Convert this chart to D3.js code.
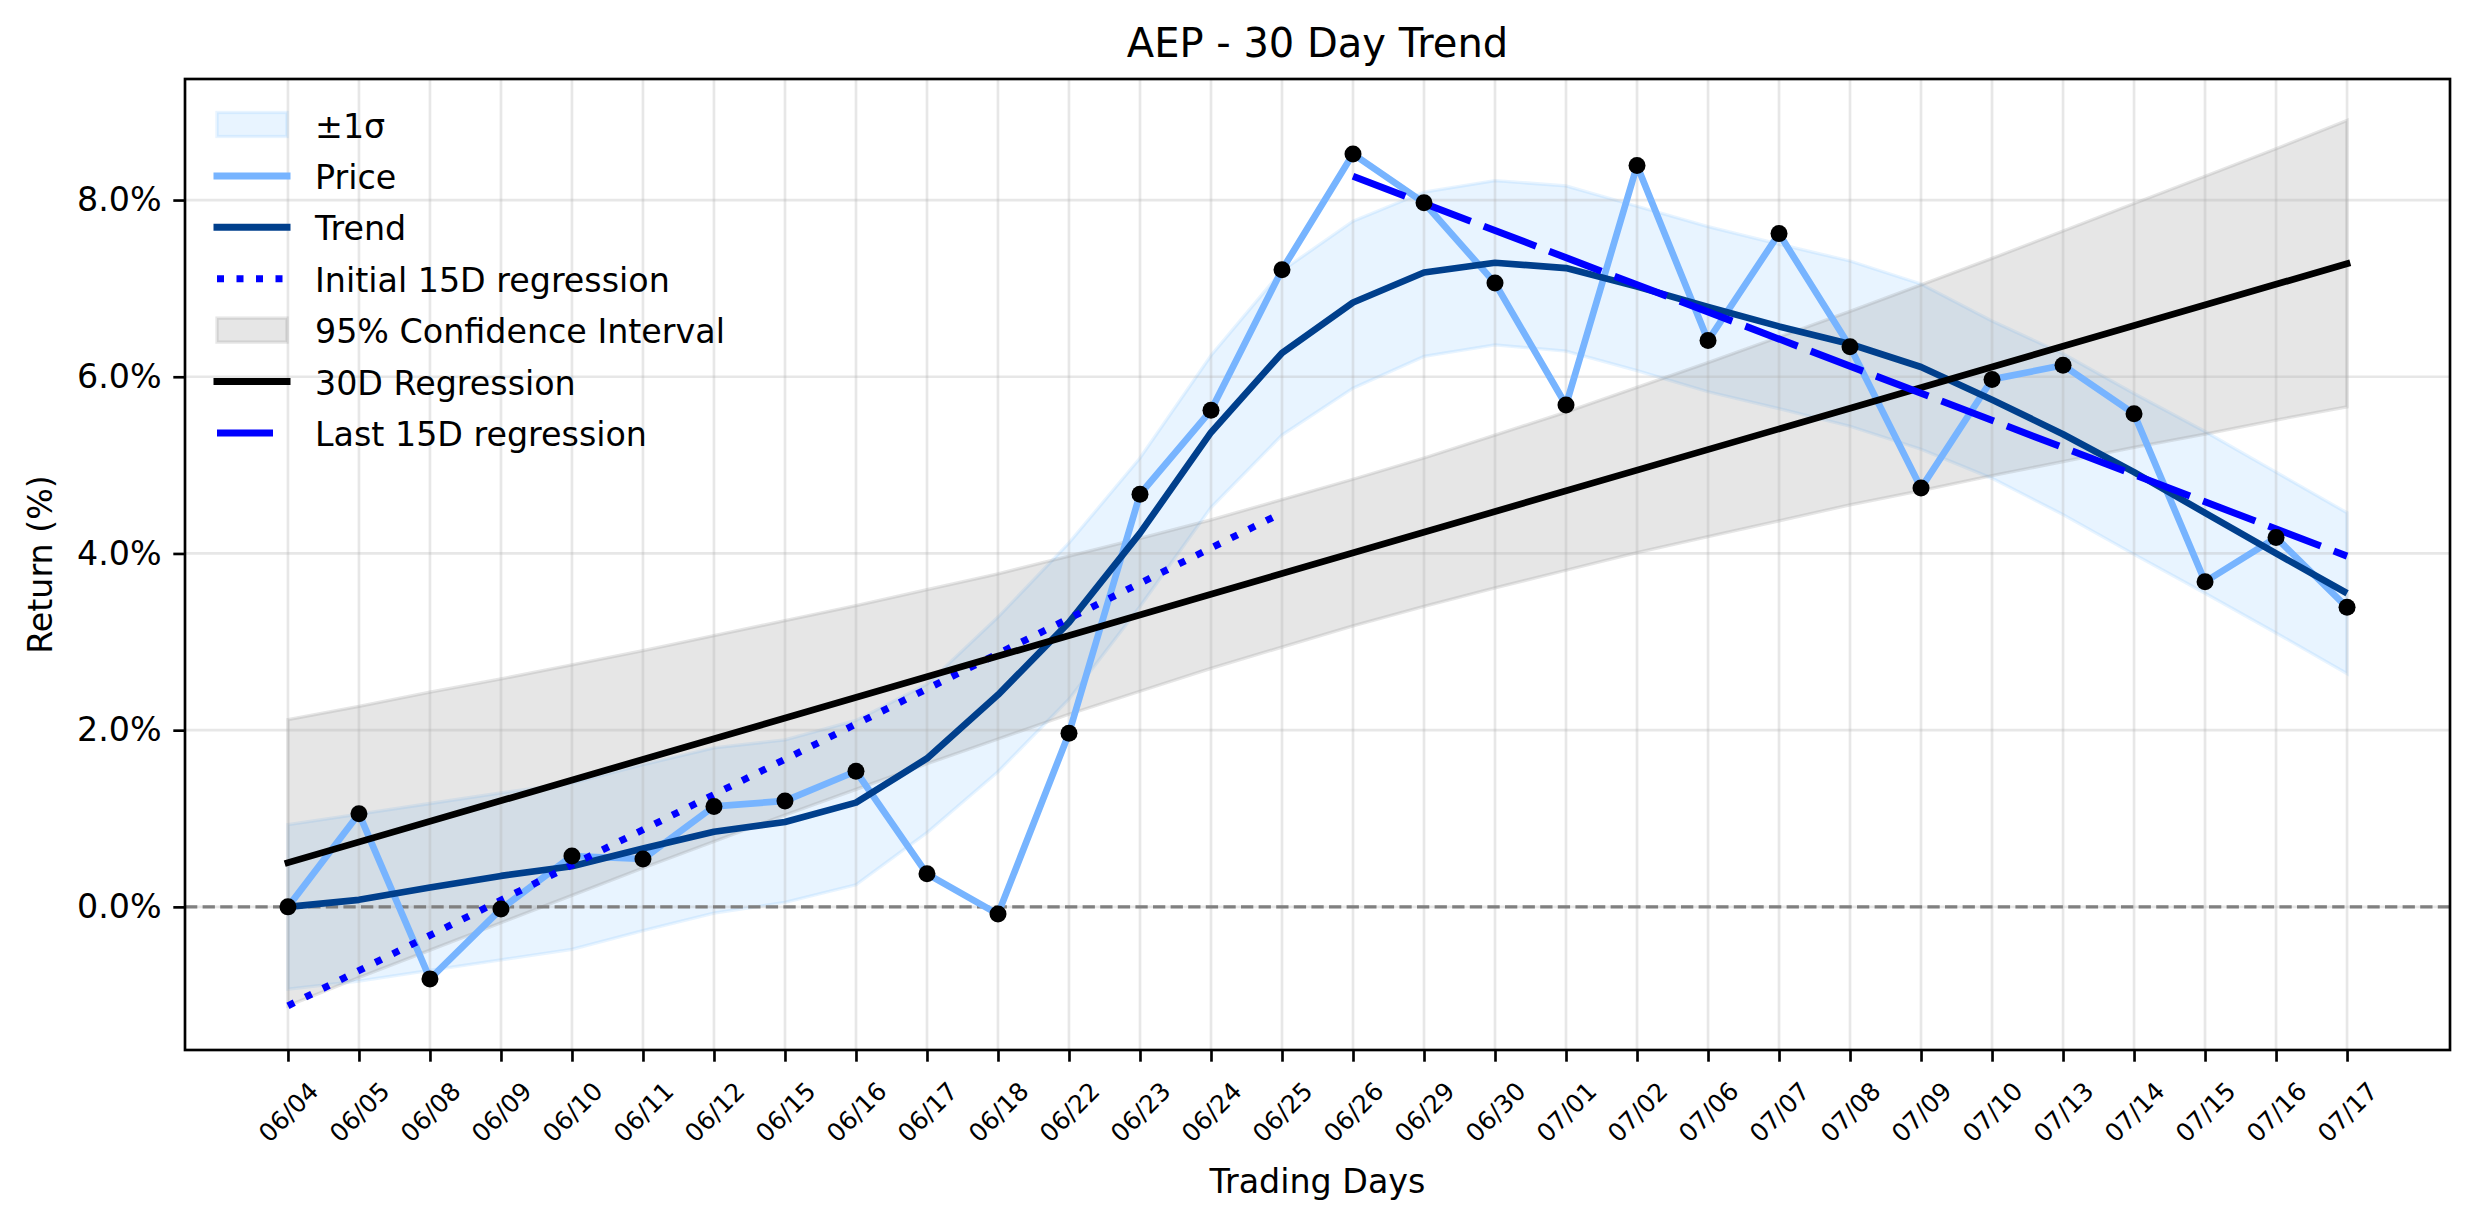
<!DOCTYPE html>
<html>
<head>
<meta charset="utf-8">
<script src="https://cdn.jsdelivr.net/npm/d3@7"></script>
<style>
  body { margin: 0; background: #fff; }
  svg text { font-family: "DejaVu Sans", sans-serif; fill: #000; }
</style>
</head>
<body>
<svg width="2474" height="1224"></svg>
<script>

// Datos
let dias = ['06/04', '06/05', '06/08', '06/09', '06/10', '06/11', '06/12', '06/15', '06/16', '06/17',
            '06/18', '06/22', '06/23', '06/24', '06/25', '06/26', '06/29', '06/30', '07/01', '07/02',
            '07/06', '07/07', '07/08', '07/09', '07/10', '07/13', '07/14', '07/15', '07/16', '07/17']

let precio = [0.00, 1.055, -0.815, -0.024, 0.576, 0.542, 1.137, 1.199, 1.535, 0.374,
              -0.082, 1.966, 4.67, 5.62, 7.21, 8.52, 7.97, 7.06, 5.68, 8.39,
              6.41, 7.62, 6.34, 4.74, 5.97, 6.13, 5.58, 3.68, 4.18, 3.39]

let tendencia = [0.00, 0.08, 0.22, 0.35, 0.46, 0.66, 0.85, 0.96, 1.18, 1.68,
                 2.40, 3.22, 4.23, 5.37, 6.27, 6.84, 7.18, 7.29, 7.23, 7.02,
                 6.79, 6.57, 6.37, 6.11, 5.74, 5.35, 4.92, 4.46, 4.00, 3.55]

let sigmaSup = [0.93, 1.05, 1.17, 1.29, 1.40, 1.61, 1.80, 1.89, 2.11, 2.52,
                3.28, 4.12, 5.08, 6.24, 7.20, 7.76, 8.09, 8.22, 8.16, 7.93,
                7.70, 7.50, 7.31, 7.05, 6.63, 6.26, 5.81, 5.38, 4.92, 4.46]

let sigmaInf = [-0.93, -0.84, -0.72, -0.60, -0.48, -0.27, -0.07, 0.05, 0.25, 0.84,
                1.53, 2.35, 3.40, 4.52, 5.34, 5.87, 6.23, 6.36, 6.29, 6.07,
                5.83, 5.64, 5.44, 5.18, 4.85, 4.44, 3.99, 3.55, 3.10, 2.64]

let ciSup = [2.12, 2.27, 2.43, 2.58, 2.74, 2.90, 3.07, 3.24, 3.41, 3.59,
             3.77, 3.97, 4.17, 4.38, 4.61, 4.84, 5.08, 5.34, 5.60, 5.88,
             6.16, 6.45, 6.74, 7.04, 7.34, 7.65, 7.96, 8.27, 8.58, 8.90]

let ciInf = [-1.12, -0.80, -0.49, -0.18, 0.13, 0.44, 0.74, 1.04, 1.33, 1.62,
             1.90, 2.18, 2.44, 2.70, 2.94, 3.18, 3.40, 3.61, 3.81, 4.01,
             4.19, 4.37, 4.55, 4.71, 4.88, 5.04, 5.20, 5.35, 5.51, 5.66]

// Rectas: extremos
let reg30Dias = ['06/04', '07/17']
let reg30 = [0.50, 7.28]
let ini15Dias = ['06/04', '06/25']
let ini15 = [-1.12, 4.46]
let fin15Dias = ['06/26', '07/17']
let fin15 = [8.27, 3.97]

let yTicks = [0, 2, 4, 6, 8]



/* Lienzo */

let svg = d3.select('svg')
let izq = 185, der = 2450, arr = 79, aba = 1050

let x = d3.scalePoint().domain(dias).range([izq, der]).padding(1.45)
let y = d3.scaleLinear().domain([-1.62, 9.37]).range([aba, arr])

let azulClaro = '#77b4ff'
let azulOscuro = '#003f8c'

let banda = (sup, inf) => d3.area()
  .x((d, i) => x(dias[i]))
  .y0((d, i) => y(inf[i]))
  .y1((d, i) => y(sup[i]))(sup)

let linea = (ds, vs) => d3.line()
  .x((d, i) => x(ds[i]))
  .y(d => y(d))(vs)


// Bandas (debajo de la grilla, como en matplotlib)
svg.append('path')
  .attr('d', banda(sigmaSup, sigmaInf))
  .attr('fill', 'rgba(30,144,255,0.1)')
  .attr('stroke', 'rgba(30,144,255,0.1)')
  .attr('stroke-width', 3.3)

svg.append('path')
  .attr('d', banda(ciSup, ciInf))
  .attr('fill', 'rgba(128,128,128,0.2)')
  .attr('stroke', 'rgba(128,128,128,0.2)')
  .attr('stroke-width', 3.3)


// Grilla
let grilla = svg.append('g').attr('stroke', 'rgba(176,176,176,0.3)').attr('stroke-width', 2.67)
grilla.selectAll('line.v').data(dias).enter().append('line')
  .attr('x1', d => x(d)).attr('x2', d => x(d))
  .attr('y1', arr).attr('y2', aba)
grilla.selectAll('line.h').data(yTicks).enter().append('line')
  .attr('x1', izq).attr('x2', der)
  .attr('y1', d => y(d)).attr('y2', d => y(d))


// Linea de cero
svg.append('line')
  .attr('x1', izq).attr('x2', der)
  .attr('y1', y(0)).attr('y2', y(0))
  .attr('stroke', '#808080')
  .attr('stroke-width', 3.3)
  .attr('stroke-dasharray', '12.3,5.3')


// Series
svg.append('path').attr('d', linea(dias, precio))
  .attr('fill', 'none').attr('stroke', azulClaro).attr('stroke-width', 6.7)
  .attr('stroke-linejoin', 'round')

svg.append('path').attr('d', linea(dias, tendencia))
  .attr('fill', 'none').attr('stroke', azulOscuro).attr('stroke-width', 6.7)
  .attr('stroke-linejoin', 'round')

svg.append('path').attr('d', linea(ini15Dias, ini15))
  .attr('fill', 'none').attr('stroke', '#0000ff').attr('stroke-width', 7)
  .attr('stroke-dasharray', '7,12.5')

svg.append('path').attr('d', linea(reg30Dias, reg30))
  .attr('fill', 'none').attr('stroke', '#000').attr('stroke-width', 6.7)
  .attr('stroke-linecap', 'square')

svg.append('path').attr('d', linea(fin15Dias, fin15))
  .attr('fill', 'none').attr('stroke', '#0000ff').attr('stroke-width', 7)
  .attr('stroke-dasharray', '56,14')

svg.append('g').selectAll('circle')
  .data(precio).enter().append('circle')
  .attr('cx', (d, i) => x(dias[i]))
  .attr('cy', d => y(d))
  .attr('r', 8.5)
  .attr('fill', '#000')


// Marco
svg.append('rect')
  .attr('x', izq).attr('y', arr)
  .attr('width', der - izq).attr('height', aba - arr)
  .attr('fill', 'none').attr('stroke', '#000').attr('stroke-width', 2.67)


/* Ejes */

let ejeY = svg.append('g')
  .attr('transform', `translate(${izq},0)`)
  .call(d3.axisLeft(y).tickValues(yTicks).tickFormat(d => d.toFixed(1) + '%')
    .tickSize(11.7).tickPadding(11.7).tickSizeOuter(0))
ejeY.select('.domain').remove()
ejeY.selectAll('line').attr('stroke-width', 2.67)
ejeY.selectAll('text').attr('font-size', 33.3).attr('font-family', 'DejaVu Sans')

let ejeX = svg.append('g')
  .attr('transform', `translate(0,${aba})`)
  .call(d3.axisBottom(x).tickSize(11.7).tickSizeOuter(0))
ejeX.select('.domain').remove()
ejeX.selectAll('line').attr('stroke-width', 2.67)
ejeX.selectAll('text')
  .attr('font-size', 25)
  .attr('font-family', 'DejaVu Sans')
  .attr('text-anchor', 'middle')
  .attr('y', 0)
  .attr('dy', '0.35em')
  .attr('transform', 'translate(0,62) rotate(-45)')

svg.append('text')
  .attr('x', (izq + der) / 2).attr('y', 1193)
  .attr('text-anchor', 'middle')
  .attr('font-size', 33.3)
  .text('Trading Days')

svg.append('text')
  .attr('transform', `translate(52,${(arr + aba) / 2}) rotate(-90)`)
  .attr('text-anchor', 'middle')
  .attr('font-size', 33.3)
  .text('Return (%)')

svg.append('text')
  .attr('x', (izq + der) / 2).attr('y', 57)
  .attr('text-anchor', 'middle')
  .attr('font-size', 40)
  .text('AEP - 30 Day Trend')


/* Leyenda */

let leyenda = [
  {txt: '±1σ', tipo: 'parche', fill: 'rgba(30,144,255,0.1)'},
  {txt: 'Price', tipo: 'linea', color: azulClaro},
  {txt: 'Trend', tipo: 'linea', color: azulOscuro},
  {txt: 'Initial 15D regression', tipo: 'linea', color: '#0000ff', dash: '7,12.5'},
  {txt: '95% Confidence Interval', tipo: 'parche', fill: 'rgba(128,128,128,0.2)'},
  {txt: '30D Regression', tipo: 'linea', color: '#000'},
  {txt: 'Last 15D regression', tipo: 'linea', color: '#0000ff', dash: '56,14'}
]

let filas = svg.append('g').selectAll('g')
  .data(leyenda).enter().append('g')
  .attr('transform', (d, i) => `translate(0,${124.5 + i * 51.4})`)

filas.filter(d => d.tipo == 'parche').append('rect')
  .attr('x', 217).attr('y', -12).attr('width', 70).attr('height', 24)
  .attr('fill', d => d.fill).attr('stroke', d => d.fill).attr('stroke-width', 3.3)

filas.filter(d => d.tipo == 'linea').append('line')
  .attr('x1', 217).attr('x2', 287).attr('y1', 0).attr('y2', 0)
  .attr('stroke', d => d.color).attr('stroke-width', 7)
  .attr('stroke-linecap', d => d.dash ? 'butt' : 'square')
  .attr('stroke-dasharray', d => d.dash ?? null)

filas.append('text')
  .attr('x', 315).attr('y', 13)
  .attr('font-size', 33.3)
  .text(d => d.txt)

</script>
</body>
</html>
